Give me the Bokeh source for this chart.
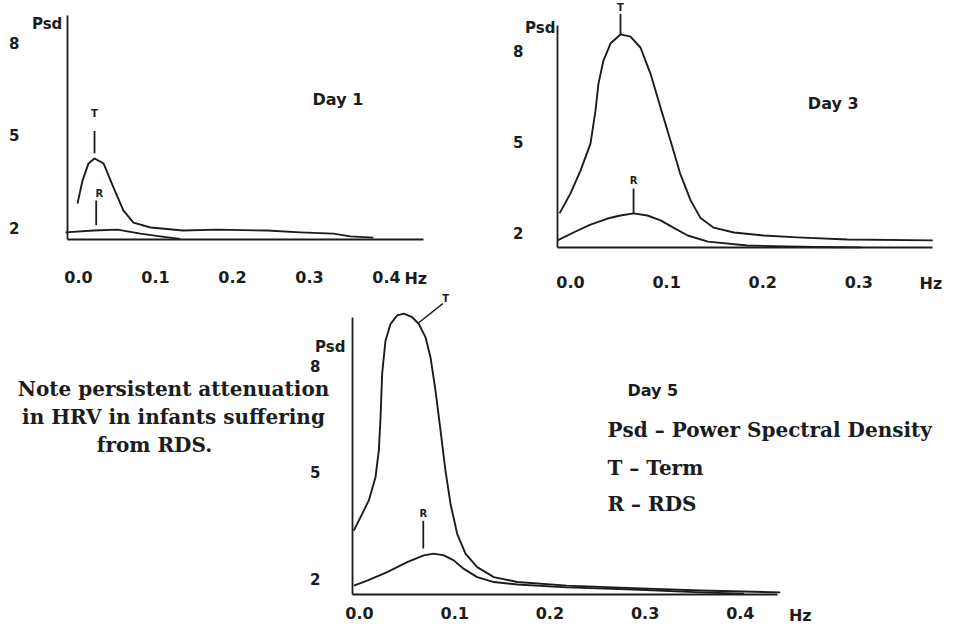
import numpy as np
from bokeh.plotting import figure
from bokeh.models import Range1d, LinearAxis, FixedTicker, PrintfTickFormatter, BasicTickFormatter
from bokeh.core.properties import value
from bokeh.embed import file_html
from bokeh.resources import INLINE

# ---------------- data (frequency in Hz, Psd in plot units) ----------------
day1_term_hz = [-0.0013, 0.0052, 0.013, 0.0208, 0.0325, 0.0455, 0.0584, 0.0714, 0.0935,
                0.136, 0.18, 0.245, 0.288, 0.331, 0.353, 0.383]
day1_term_psd = [2.78, 3.53, 4.09, 4.25, 4.09, 3.30, 2.55, 2.16, 2.0,
                 1.90, 1.93, 1.90, 1.84, 1.80, 1.71, 1.67]
day1_rds_hz = [-0.0169, 0.0195, 0.0506, 0.0805, 0.106, 0.132]
day1_rds_psd = [1.84, 1.90, 1.93, 1.80, 1.71, 1.63]

day3_term_hz = [-0.0114, 0.0, 0.0104, 0.0208, 0.026, 0.0291, 0.0343, 0.0416, 0.052, 0.0624,
                0.0728, 0.0832, 0.0937, 0.104, 0.114, 0.125, 0.135, 0.149, 0.170, 0.201,
                0.236, 0.288, 0.377]
day3_term_psd = [2.63, 3.29, 4.04, 4.93, 6.02, 6.91, 7.67, 8.23, 8.53, 8.46,
                 8.10, 7.24, 6.12, 5.03, 3.95, 3.06, 2.49, 2.16, 2.0, 1.90,
                 1.84, 1.77, 1.74]
day3_rds_hz = [-0.0135, 0.0031, 0.0208, 0.0385, 0.052, 0.0656, 0.080, 0.0937, 0.107,
               0.122, 0.143, 0.184, 0.253, 0.302]
day3_rds_psd = [1.74, 2.0, 2.26, 2.46, 2.56, 2.63, 2.56, 2.40, 2.16,
                1.90, 1.70, 1.57, 1.52, 1.51]

day5_term_hz = [-0.006, 0.0028, 0.0098, 0.0168, 0.0203, 0.0221, 0.0238, 0.0273, 0.0326,
                0.0396, 0.0465, 0.0554, 0.0623, 0.0693, 0.0746, 0.0798, 0.0851, 0.0903,
                0.0956, 0.1026, 0.1113, 0.1236, 0.1411, 0.1657, 0.218, 0.288, 0.358, 0.442]
day5_term_psd = [3.35, 3.82, 4.20, 4.85, 5.61, 6.54, 7.77, 8.70, 9.17,
                 9.41, 9.46, 9.36, 9.17, 8.80, 8.23, 7.30, 6.17, 5.04,
                 4.10, 3.26, 2.70, 2.32, 2.04, 1.90, 1.80, 1.73, 1.66, 1.61]
day5_rds_hz = [-0.006, 0.0081, 0.0291, 0.0501, 0.0675, 0.078, 0.0886, 0.099, 0.1096,
               0.1236, 0.1411, 0.1657, 0.218, 0.288, 0.358, 0.404]
day5_rds_psd = [1.80, 1.94, 2.18, 2.46, 2.65, 2.70, 2.65, 2.51, 2.27,
                2.04, 1.90, 1.83, 1.75, 1.69, 1.61, 1.57]

day1_x_ticks = [0.0, 0.1, 0.2, 0.3, 0.4]
day3_x_ticks = [0.0, 0.1, 0.2, 0.3]
day5_x_ticks = [0.0, 0.1, 0.2, 0.3, 0.4]
y_ticks = [2, 5, 8]

day_titles = ["Day  1", "Day  3", "Day  5"]
note_lines = ["Note persistent attenuation", "in HRV in infants suffering", "from RDS."]
legend_lines = ["Psd \u2013 Power Spectral Density", "T \u2013 Term", " R \u2013 RDS"]

# ---------------- layout / style ----------------
W, H = 960, 629
INK = "#1c1c1c"
SANS = value("DejaVu Sans")
SERIF = value("DejaVu Serif")

# pixel placement of each panel: x pixel of 0 Hz, px per Hz, y pixel of Psd 2, px per Psd unit
panels = {
    "d1": dict(x0=78, xs=770, y2=227, ys=30.67),
    "d3": dict(x0=570, xs=961, y2=232, ys=30.33),
    "d5": dict(x0=359, xs=952, y2=578, ys=35.5),
}

p = figure(width=W, height=H, x_range=Range1d(0, W), y_range=Range1d(H, 0),
           x_axis_type=None, y_axis_type=None, toolbar_location=None,
           output_backend="svg", min_border=0, outline_line_color=None,
           background_fill_color="white", border_fill_color="white")
p.min_border_left = p.min_border_right = p.min_border_top = p.min_border_bottom = 0

xr, yr = {}, {}
for name, c in panels.items():
    xr[name] = Range1d(-c["x0"] / c["xs"], (W - c["x0"]) / c["xs"])
    yr[name] = Range1d(2 - (H - c["y2"]) / c["ys"], 2 + c["y2"] / c["ys"])
p.extra_x_ranges = xr
p.extra_y_ranges = yr


def add_axes(name, xticks, x_start, x_end, y_base, y_top, x_standoff, y_standoff):
    common = dict(x_range_name=name, y_range_name=name,
                  major_tick_line_color=None, minor_tick_line_color=None,
                  major_tick_in=0, major_tick_out=0, minor_tick_in=0, minor_tick_out=0,
                  axis_line_color=INK, axis_line_width=1.8,
                  major_label_text_font="DejaVu Sans", major_label_text_font_style="bold",
                  major_label_text_color=INK)
    xa = LinearAxis(fixed_location=y_base, bounds=(x_start, x_end),
                    ticker=FixedTicker(ticks=xticks), formatter=PrintfTickFormatter(format="%.1f"),
                    major_label_standoff=x_standoff, major_label_text_font_size="16px", **common)
    p.add_layout(xa, "below")
    ya = LinearAxis(fixed_location=x_start, bounds=(y_base, y_top),
                    ticker=FixedTicker(ticks=y_ticks), formatter=BasicTickFormatter(),
                    major_label_standoff=y_standoff, major_label_text_font_size="15px", **common)
    p.add_layout(ya, "left")


add_axes("d1", day1_x_ticks, -0.0143, 0.448, 1.62, 8.91, 32, 48)
add_axes("d3", day3_x_ticks, -0.0135, 0.377, 1.505, 8.82, 28, 34)
add_axes("d5", day5_x_ticks, -0.0074, 0.439, 1.55, 9.35, 13, 32)

curves = [
    ("d1", day1_term_hz, day1_term_psd), ("d1", day1_rds_hz, day1_rds_psd),
    ("d3", day3_term_hz, day3_term_psd), ("d3", day3_rds_hz, day3_rds_psd),
    ("d5", day5_term_hz, day5_term_psd), ("d5", day5_rds_hz, day5_rds_psd),
]
for name, xs, ys in curves:
    p.line(xs, ys, x_range_name=name, y_range_name=name, line_color=INK, line_width=1.9,
           line_join="round")


def txt(name, x, y, s, size, font=SANS, align="left", style="bold"):
    p.text(x=[x], y=[y], text=[s], x_range_name=name, y_range_name=name,
           text_font=font, text_font_style=style, text_font_size=size,
           text_align=align, text_baseline="middle", text_color=INK)


def seg(name, x0, y0, x1, y1, w=1.8):
    p.segment(x0=[x0], y0=[y0], x1=[x1], y1=[y1], x_range_name=name, y_range_name=name,
              line_color=INK, line_width=w)


# axis end labels
txt("d1", -0.021, 8.65, "Psd", "15px", align="right")
txt("d3", -0.0156, 8.73, "Psd", "15px", align="right")
txt("d5", -0.0147, 8.51, "Psd", "15px", align="right")
txt("d1", 0.438, 0.337, "Hz", "16px", align="center")
txt("d3", 0.375, 0.32, "Hz", "16px", align="center")
txt("d5", 0.463, 0.96, "Hz", "16px", align="center")

# day titles
txt("d1", 0.304, 6.17, day_titles[0], "16px")
txt("d3", 0.247, 6.25, day_titles[1], "16px")
txt("d5", 0.2815, 7.30, day_titles[2], "16px")

# T / R markers, anchored on the curves
def peak(xs, ys):
    i = int(np.argmax(ys))
    return xs[i], ys[i]

# Day 1
tx, ty = peak(day1_term_hz, day1_term_psd)
seg("d1", tx, ty + 0.17, tx, ty + 0.9)
txt("d1", tx, ty + 1.47, "T", "10px", align="center")
rx = 0.023
ry = float(np.interp(rx, day1_rds_hz, day1_rds_psd))
seg("d1", rx, ry + 0.17, rx, ry + 0.98)
txt("d1", rx + 0.004, ry + 1.21, "R", "10px", align="center")

# Day 3
tx, ty = peak(day3_term_hz, day3_term_psd)
seg("d3", tx, ty, tx, ty + 0.68)
txt("d3", tx, ty + 0.9, "T", "10px", align="center")
rx, ry = peak(day3_rds_hz, day3_rds_psd)
seg("d3", rx, ry, rx, ry + 0.82)
txt("d3", rx, ry + 1.08, "R", "10px", align="center")

# Day 5
lx = 0.0615
ly = float(np.interp(lx, day5_term_hz, day5_term_psd))
seg("d5", lx, ly, lx + 0.026, ly + 0.55, w=1.4)
txt("d5", lx + 0.029, ly + 0.70, "T", "10px", align="center")
rx = 0.067
ry = float(np.interp(rx, day5_rds_hz, day5_rds_psd))
seg("d5", rx, ry + 0.2, rx, ry + 0.98)
txt("d5", rx, ry + 1.18, "R", "10px", align="center")

# legend text (Day 5 panel)
txt("d5", 0.2605, 6.17, legend_lines[0], "20px", font=SERIF)
txt("d5", 0.2605, 5.10, legend_lines[1], "20px", font=SERIF)
txt("d5", 0.2605, 4.11, legend_lines[2], "20px", font=SERIF)

# note (page pixel coordinates)
p.text(x=[173, 173, 154], y=[388, 416, 444], text=note_lines,
       text_font=SERIF, text_font_style="bold", text_font_size="20px",
       text_align="center", text_baseline="middle", text_color=INK)

open("out.html", "w").write(file_html(p, INLINE))
